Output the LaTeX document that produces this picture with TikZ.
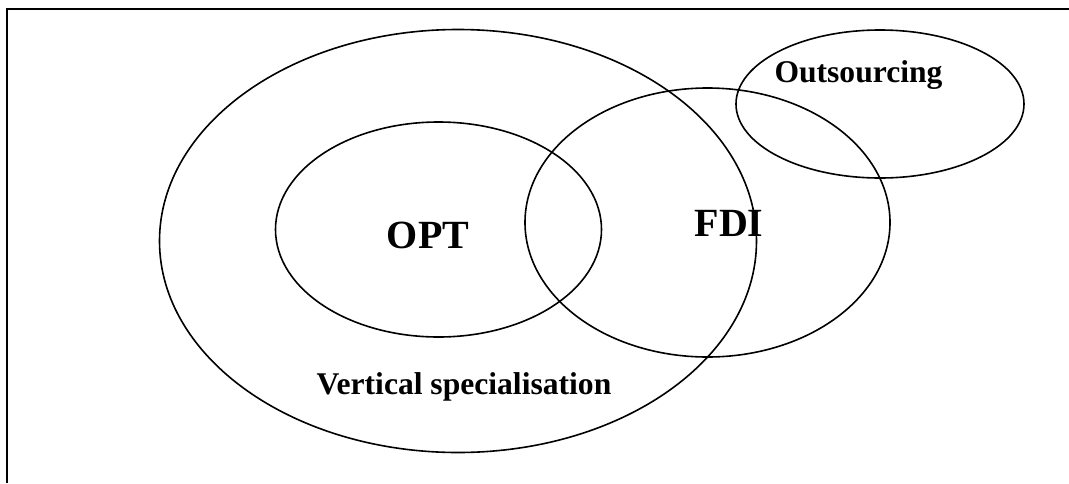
\documentclass[tikz,border=0pt]{standalone}
\usepackage{fontspec}
\setmainfont{Liberation Serif}
\begin{document}
\begin{tikzpicture}[x=1pt,y=-1pt,
  ell/.style={draw=black,line width=1.6pt},
  lab/.style={anchor=base,inner sep=0pt,font=\bfseries\fontsize{31.6}{34}\selectfont},
  biglab/.style={anchor=base,inner sep=0pt,font=\bfseries\fontsize{40}{44}\selectfont}]
\useasboundingbox (0,0) rectangle (1069,483);
\draw[line width=1.8pt] (7,483) -- (7,9) -- (1069,9);
\draw[ell] (458,241) ellipse [x radius=298.5, y radius=211.5];
\draw[ell] (438.5,229.5) ellipse [x radius=163, y radius=107.5];
\draw[ell] (707.5,222.5) ellipse [x radius=182.5, y radius=134.5];
\draw[ell] (880,104) ellipse [x radius=144, y radius=74];
\node[lab] (vs) at (464,394) {Vertical specialisation};
\node[lab] (out) at (858.5,82) {Outsourcing};
\node[biglab] (opt) at (428,248) {OPT};
\node[biglab] (fdi) at (729,236) {FDI};
\end{tikzpicture}
\end{document}
